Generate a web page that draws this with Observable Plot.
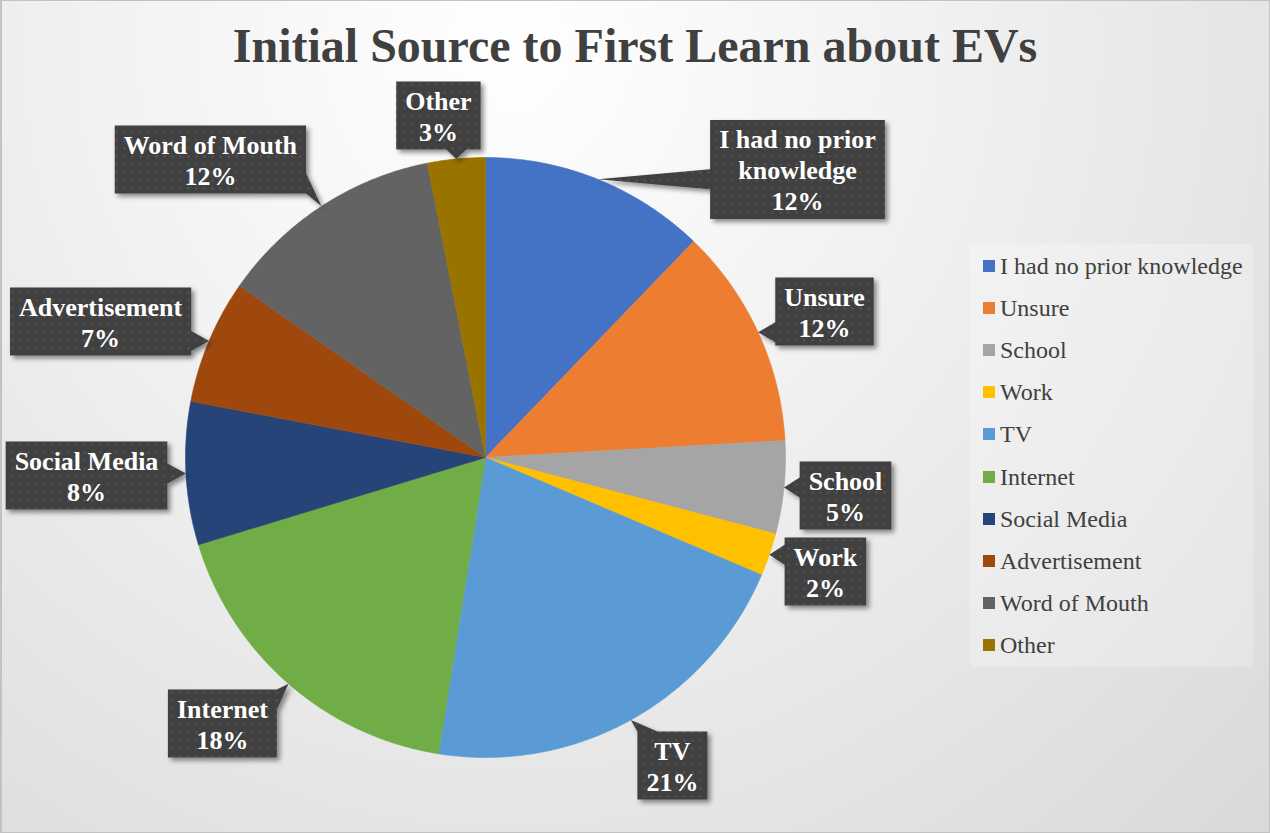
<!DOCTYPE html>
<html><head><meta charset="utf-8">
<script src="https://cdn.jsdelivr.net/npm/d3@7"></script>
<script src="https://cdn.jsdelivr.net/npm/@observablehq/plot@0.6"></script>
<style>
html,body{margin:0;padding:0;background:#fff;}
body{width:1270px;height:833px;overflow:hidden;}
#frame{position:relative;width:1270px;height:833px;overflow:hidden;
  background:radial-gradient(ellipse farthest-corner at 40% 6%, #ffffff 0%, #f1f1f1 40%, #d9d9d9 100%);}
#frame::after{content:"";position:absolute;inset:0;border:1px solid #c2c2c2;border-left-width:2px;pointer-events:none;}
#title{position:absolute;left:0;width:1270px;top:22px;text-align:center;font:bold 48px "Liberation Serif","Times New Roman",serif;line-height:48px;color:#404040;white-space:nowrap;}
#chart{position:absolute;left:0;top:0;}
#legend{position:absolute;left:970px;top:244px;width:283px;height:423px;background:rgba(255,255,255,0.25);}
.item{position:absolute;left:0;height:24px;display:flex;align-items:center;font:24px "Liberation Serif","Times New Roman",serif;line-height:24px;color:#404040;white-space:nowrap;}
.sw{width:12px;height:12px;margin-left:13px;margin-right:5px;}
</style></head><body>
<div id="frame"><div id="title">Initial Source to First Learn about EVs</div><div id="chart"></div><div id="legend"></div></div>
<script>
// ---- data ----
const categories = ["I had no prior knowledge","Unsure","School","Work","TV","Internet","Social Media","Advertisement","Word of Mouth","Other"];
const values = [12.2, 11.9, 5.0, 2.3, 21.1, 17.8, 7.7, 6.7, 12.2, 3.1];
const colors = ["#4472C4","#ED7D31","#A5A5A5","#FFC000","#5B9BD5","#70AD47","#264478","#9E480E","#636363","#997300"];
// callout box centres, in pie-radius units from the pie centre (y up)
const labelAt = [[1.04,0.96],[1.13,0.487],[1.2,-0.127],[1.133,-0.38],[0.623,-1.027],[-0.877,-0.887],[-1.33,-0.06],[-1.283,0.453],[-0.917,0.993],[-0.157,1.14]];

// ---- layout ----
const W = 1270, H = 833, CX = 485, CY = 457, R = 300;
const FONT = '"Liberation Serif","Times New Roman",serif';
const total = d3.sum(values);
const arcs = d3.pie().sort(null).value(d => d)(values);

// slice outlines in pie units
const slicePts = [];
arcs.forEach((a, i) => {
  const cat = categories[i];
  slicePts.push({cat, x: 0, y: 0});
  const n = Math.max(2, Math.ceil((a.endAngle - a.startAngle) / (Math.PI / 360)));
  for (let k = 0; k <= n; k++) {
    const t = a.startAngle + (a.endAngle - a.startAngle) * k / n;
    slicePts.push({cat, x: Math.sin(t), y: Math.cos(t)});
  }
  slicePts.push({cat, x: 0, y: 0});
});

// callouts
const ctx = document.createElement("canvas").getContext("2d");
ctx.font = `bold 26px ${FONT}`;
function wrap(name) {
  if (name.length <= 16) return [name];
  const cut = name.lastIndexOf(" ", 15);
  return [name.slice(0, cut), name.slice(cut + 1)];
}
const calloutPts = [], labels = [];
arcs.forEach((a, i) => {
  const pct = Math.round(values[i] / total * 100) + "%";
  const lines = [...wrap(categories[i]), pct];
  const tw = d3.max(lines, l => ctx.measureText(l).width);
  const w = tw + 18, h = lines.length * 31 + 6;
  const mid = (a.startAngle + a.endAngle) / 2;
  // pixel coords relative to centre, y down
  const tx = R * Math.sin(mid), ty = -R * Math.cos(mid);
  const bx = labelAt[i][0] * R, by = -labelAt[i][1] * R;
  const x0 = bx - w / 2, x1 = bx + w / 2, y0 = by - h / 2, y1 = by + h / 2;
  const dxo = tx < x0 ? x0 - tx : tx > x1 ? tx - x1 : 0;
  const dyo = ty < y0 ? y0 - ty : ty > y1 ? ty - y1 : 0;
  const hw = 10;
  const clamp = (v, lo, hi) => Math.max(lo, Math.min(hi, v));
  let side;
  if (dxo >= dyo) side = tx < x0 ? "L" : "R"; else side = ty < y0 ? "T" : "B";
  const pts = [];
  pts.push([x0, y0]);
  if (side === "T") { const c = clamp(tx, x0 + hw, x1 - hw); pts.push([c - hw, y0], [tx, ty], [c + hw, y0]); }
  pts.push([x1, y0]);
  if (side === "R") { const c = clamp(ty, y0 + hw, y1 - hw); pts.push([x1, c - hw], [tx, ty], [x1, c + hw]); }
  pts.push([x1, y1]);
  if (side === "B") { const c = clamp(tx, x0 + hw, x1 - hw); pts.push([c + hw, y1], [tx, ty], [c - hw, y1]); }
  pts.push([x0, y1]);
  if (side === "L") { const c = clamp(ty, y0 + hw, y1 - hw); pts.push([x0, c + hw], [tx, ty], [x0, c - hw]); }
  pts.push([x0, y0]);
  pts.forEach(([px, py]) => calloutPts.push({id: i, x: px / R, y: -py / R}));
  labels.push({x: bx / R, y: -by / R, text: lines.join("\n")});
});

const plot = Plot.plot({
  width: W, height: H, margin: 0,
  x: {domain: [-CX / R, (W - CX) / R], axis: null},
  y: {domain: [-(H - CY) / R, CY / R], axis: null},
  color: {domain: categories, range: colors},
  style: {background: "transparent", overflow: "visible"},
  marks: [
    Plot.line(slicePts, {x: "x", y: "y", z: "cat", fill: "cat", stroke: "cat", strokeWidth: 0.6, curve: "linear"}),
    Plot.line(calloutPts, {x: "x", y: "y", z: "id", fill: "url(#dots)", stroke: "none", curve: "linear"}),
    Plot.text(labels, {x: "x", y: "y", text: "text", fill: "white", fontSize: 26, fontWeight: "bold", fontFamily: FONT, lineHeight: 31 / 26, lineAnchor: "middle", textAnchor: "middle"})
  ]
});

const svg = d3.select(plot);
const defs = svg.insert("defs", ":first-child");
const pat = defs.append("pattern").attr("id", "dots").attr("patternUnits", "userSpaceOnUse").attr("width", 8).attr("height", 8);
pat.append("rect").attr("width", 8).attr("height", 8).attr("fill", "#404040");
pat.append("rect").attr("x", 3).attr("y", 3).attr("width", 2).attr("height", 2).attr("fill", "#575757");
const f = defs.append("filter").attr("id", "shadow").attr("x", "-20%").attr("y", "-20%").attr("width", "150%").attr("height", "150%");
f.append("feDropShadow").attr("dx", 3).attr("dy", 3).attr("stdDeviation", 2.5).attr("flood-color", "#000").attr("flood-opacity", 0.45);
svg.selectAll("g").filter(function() { return this.getAttribute("fill") === "url(#dots)"; }).attr("filter", "url(#shadow)");
document.getElementById("chart").appendChild(plot);

// legend
const leg = d3.select("#legend");
categories.forEach((c, i) => {
  const it = leg.append("div").attr("class", "item").style("top", (21.5 + i * 42.2 - 12) + "px");
  it.append("div").attr("class", "sw").style("background", colors[i]);
  it.append("span").text(c);
});
</script>
</body></html>
